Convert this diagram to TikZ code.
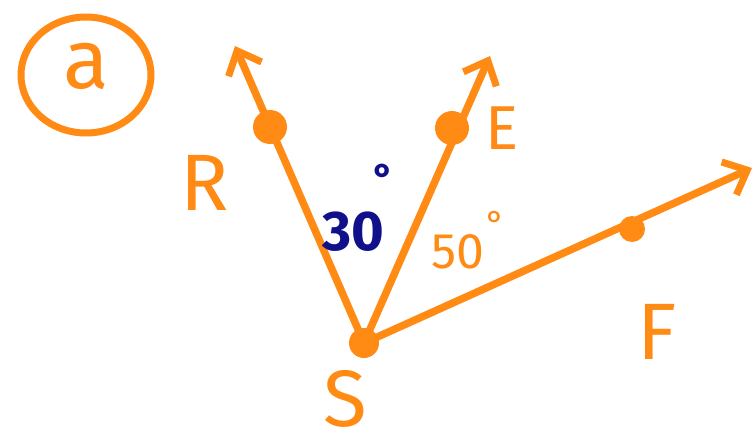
\documentclass[tikz,border=0pt]{standalone}
\usepackage{fontspec}
\setmainfont{Fira Sans}
\usetikzlibrary{arrows.meta}
\definecolor{org}{HTML}{FF8A14}
\definecolor{nav}{HTML}{10108A}
\tikzset{
  ray/.style={draw=org, line width=7.5pt, line cap=round, line join=round,
    -{Straight Barb[length=20pt,width=36pt,line width=7pt]}},
  pt/.style={circle, fill=org, inner sep=0pt},
  lab/.style={text=org, font=\fontsize{80}{80}\selectfont},
}
\begin{document}
\begin{tikzpicture}[x=1pt,y=-1pt]
\useasboundingbox (0,0) rectangle (755,447);
\coordinate (S) at (364,343);
\coordinate (Rt) at (235,46);
\coordinate (Et) at (490,56);
\coordinate (Ft) at (752,168);
\draw[ray] (S) -- (Rt);
\draw[ray] (S) -- (Et);
\draw[ray] (S) -- (Ft);
\node[pt, minimum size=34pt] (Rd) at (270,127) {};
\node[pt, minimum size=34pt] (Ed) at (452,128) {};
\node[pt, minimum size=26pt] (Fd) at (632,229) {};
\node[pt, minimum size=30pt] (Sd) at (S) {};
\draw[org, line width=7pt] (86,75) ellipse (65pt and 58pt);
\node[lab, font=\fontsize{84}{84}\selectfont] (a) at (86,66) {a};
\node[lab] (R) at (205,183) {R};
\node[lab, font=\fontsize{62}{62}\selectfont] (E) at (502,128) {E};
\node[lab] (F) at (657,332) {F};
\node[lab, font=\fontsize{80}{80}\selectfont, inner sep=0pt, text depth=0pt] (Sl) at (345,398) {S};
\node[text=nav, font=\fontsize{56}{56}\selectfont\bfseries] (t30) at (353,232) {30};
\node[text=nav, font=\fontsize{40}{40}\selectfont\bfseries] (d30) at (384,178) {°};
\node[text=org, font=\fontsize{50}{50}\selectfont] (t50) at (458,252) {50};
\node[text=org, font=\fontsize{36}{36}\selectfont] (d50) at (496,224) {°};
\end{tikzpicture}
\end{document}
